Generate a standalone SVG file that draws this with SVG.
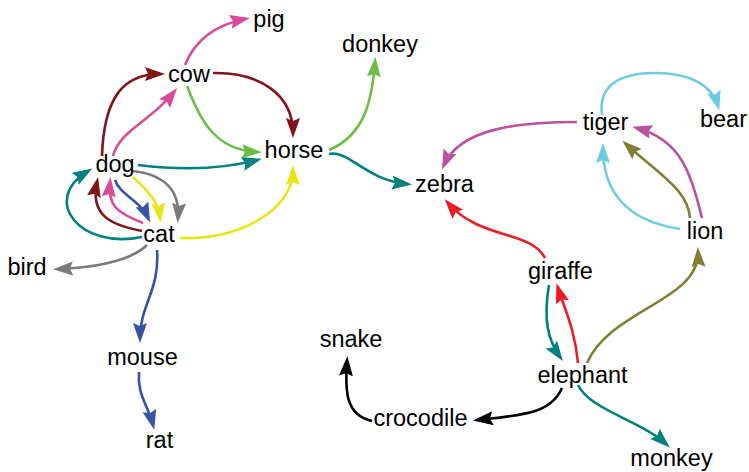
<svg xmlns="http://www.w3.org/2000/svg" width="749" height="472" viewBox="0 0 749 472">
<style>
.n text{font-family:"Liberation Sans",Arial,Helvetica,sans-serif;font-size:23.5px;fill:#000;text-anchor:middle}
#edges path{fill:none;stroke-width:2.6}
.dr{stroke:#801419}.pk{stroke:#d94a9a}.gn{stroke:#6abd45}.tl{stroke:#008080}.bl{stroke:#3953a4}.yl{stroke:#e8e619}.gy{stroke:#7a7a7a}.pu{stroke:#b9539f}.lb{stroke:#6ccde0}.ol{stroke:#808034}.rd{stroke:#ec1c24}.bk{stroke:#000}
</style>
<defs>
<marker id="m-dr" markerUnits="userSpaceOnUse" markerWidth="22" markerHeight="16" refX="15" refY="7" orient="auto"><path d="M0,0 L20,7 L0,14 L3,7 Z" fill="#801419"/></marker>
<marker id="m-pk" markerUnits="userSpaceOnUse" markerWidth="22" markerHeight="16" refX="15" refY="7" orient="auto"><path d="M0,0 L20,7 L0,14 L3,7 Z" fill="#d94a9a"/></marker>
<marker id="m-gn" markerUnits="userSpaceOnUse" markerWidth="22" markerHeight="16" refX="15" refY="7" orient="auto"><path d="M0,0 L20,7 L0,14 L3,7 Z" fill="#6abd45"/></marker>
<marker id="m-tl" markerUnits="userSpaceOnUse" markerWidth="22" markerHeight="16" refX="15" refY="7" orient="auto"><path d="M0,0 L20,7 L0,14 L3,7 Z" fill="#008080"/></marker>
<marker id="m-bl" markerUnits="userSpaceOnUse" markerWidth="22" markerHeight="16" refX="15" refY="7" orient="auto"><path d="M0,0 L20,7 L0,14 L3,7 Z" fill="#3953a4"/></marker>
<marker id="m-yl" markerUnits="userSpaceOnUse" markerWidth="22" markerHeight="16" refX="15" refY="7" orient="auto"><path d="M0,0 L20,7 L0,14 L3,7 Z" fill="#e8e619"/></marker>
<marker id="m-gy" markerUnits="userSpaceOnUse" markerWidth="22" markerHeight="16" refX="15" refY="7" orient="auto"><path d="M0,0 L20,7 L0,14 L3,7 Z" fill="#7a7a7a"/></marker>
<marker id="m-pu" markerUnits="userSpaceOnUse" markerWidth="22" markerHeight="16" refX="15" refY="7" orient="auto"><path d="M0,0 L20,7 L0,14 L3,7 Z" fill="#b9539f"/></marker>
<marker id="m-lb" markerUnits="userSpaceOnUse" markerWidth="22" markerHeight="16" refX="15" refY="7" orient="auto"><path d="M0,0 L20,7 L0,14 L3,7 Z" fill="#6ccde0"/></marker>
<marker id="m-ol" markerUnits="userSpaceOnUse" markerWidth="22" markerHeight="16" refX="15" refY="7" orient="auto"><path d="M0,0 L20,7 L0,14 L3,7 Z" fill="#808034"/></marker>
<marker id="m-rd" markerUnits="userSpaceOnUse" markerWidth="22" markerHeight="16" refX="15" refY="7" orient="auto"><path d="M0,0 L20,7 L0,14 L3,7 Z" fill="#ec1c24"/></marker>
<marker id="m-bk" markerUnits="userSpaceOnUse" markerWidth="22" markerHeight="16" refX="15" refY="7" orient="auto"><path d="M0,0 L20,7 L0,14 L3,7 Z" fill="#000"/></marker>
</defs>
<rect width="749" height="472" fill="#fff"/>
<g id="edges">
<path class="dr" marker-end="url(#m-dr)" d="M102,156 C104,95 125,74 160,74"/>
<path class="pk" marker-end="url(#m-pk)" d="M113,156 C120,130 150,122 174,92"/>
<path class="pk" marker-end="url(#m-pk)" d="M185,65 C195,40 215,25 245,19"/>
<path class="dr" marker-end="url(#m-dr)" d="M213,73 C260,72 293,95 293,133"/>
<path class="gn" marker-end="url(#m-gn)" d="M187,86 C200,120 215,150 257,152"/>
<path class="tl" marker-end="url(#m-tl)" d="M138,165 C180,170 220,170 257,160"/>
<path class="bl" marker-end="url(#m-bl)" d="M115,180 C120,195 140,200 148,218"/>
<path class="yl" marker-end="url(#m-yl)" d="M133,177 C145,188 158,200 160,218"/>
<path class="gy" marker-end="url(#m-gy)" d="M133,171 C165,175 180,190 178,218"/>
<path class="dr" marker-end="url(#m-dr)" d="M142,231 C110,225 90,215 97,182"/>
<path class="pk" marker-end="url(#m-pk)" d="M143,223 C115,212 108,205 110,182"/>
<path class="tl" marker-end="url(#m-tl)" d="M142,237 C80,250 40,200 88,171"/>
<path class="yl" marker-end="url(#m-yl)" d="M180,238 C240,240 293,210 293,170"/>
<path class="gy" marker-end="url(#m-gy)" d="M147,245 C130,262 90,268 58,269"/>
<path class="bl" marker-end="url(#m-bl)" d="M157,250 C160,290 140,305 140,338"/>
<path class="bl" marker-end="url(#m-bl)" d="M139,372 C137,395 148,405 153,425"/>
<path class="gn" marker-end="url(#m-gn)" d="M329,150 C365,135 372,100 375,62"/>
<path class="tl" marker-end="url(#m-tl)" d="M329,154 C350,150 365,180 407,184"/>
<path class="pu" marker-end="url(#m-pu)" d="M577,122 C520,122 460,128 444,165"/>
<path class="lb" marker-end="url(#m-lb)" d="M602,115 C598,85 620,73 655,73 C690,73 712,85 718,106"/>
<path class="lb" marker-end="url(#m-lb)" d="M680,229 C620,220 603,185 603,148"/>
<path class="ol" marker-end="url(#m-ol)" d="M690,218 C688,190 660,175 626,144"/>
<path class="pu" marker-end="url(#m-pu)" d="M702,218 C690,170 680,140 637,128"/>
<path class="ol" marker-end="url(#m-ol)" d="M587,363 C610,310 700,300 698,252"/>
<path class="rd" marker-end="url(#m-rd)" d="M545,258 C530,230 480,240 448,203"/>
<path class="tl" marker-end="url(#m-tl)" d="M549,285 C543,320 548,340 560,357"/>
<path class="rd" marker-end="url(#m-rd)" d="M578,363 C575,330 565,310 558,288"/>
<path class="bk" marker-end="url(#m-bk)" d="M562,388 C550,415 520,415 478,420"/>
<path class="bk" marker-end="url(#m-bk)" d="M372,421 C345,415 345,390 347,361"/>
<path class="tl" marker-end="url(#m-tl)" d="M578,385 C590,410 640,420 666,444"/>
</g>
<g id="pig" class="n"><text x="269" y="27">pig</text></g>
<g id="cow" class="n"><text x="189" y="82">cow</text></g>
<g id="horse" class="n"><text x="294" y="158">horse</text></g>
<g id="dog" class="n"><text x="115" y="172">dog</text></g>
<g id="cat" class="n"><text x="159" y="242">cat</text></g>
<g id="bird" class="n"><text x="27" y="275">bird</text></g>
<g id="mouse" class="n"><text x="142.5" y="365">mouse</text></g>
<g id="rat" class="n"><text x="159.5" y="448">rat</text></g>
<g id="donkey" class="n"><text x="380" y="52">donkey</text></g>
<g id="zebra" class="n"><text x="444.5" y="192">zebra</text></g>
<g id="tiger" class="n"><text x="605.5" y="130">tiger</text></g>
<g id="bear" class="n"><text x="723.5" y="127">bear</text></g>
<g id="lion" class="n"><text x="705" y="239">lion</text></g>
<g id="giraffe" class="n"><text x="560.5" y="279">giraffe</text></g>
<g id="snake" class="n"><text x="351" y="347">snake</text></g>
<g id="elephant" class="n"><text x="582.5" y="383">elephant</text></g>
<g id="crocodile" class="n"><text x="420.5" y="426">crocodile</text></g>
<g id="monkey" class="n"><text x="671.5" y="466">monkey</text></g>
</svg>
